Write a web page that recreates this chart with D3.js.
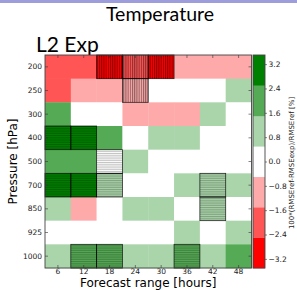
<!DOCTYPE html>
<html><head><meta charset="utf-8">
<script src="https://cdn.jsdelivr.net/npm/d3@7/dist/d3.min.js"></script>
<style>body{margin:0;background:#fff}svg{display:block}</style>
</head><body>
<script>
// ---- data ----
const forecastHours = ["6","12","18","24","30","36","42","48"];
const pressureLevels = ["200","250","300","400","500","700","850","925","1000"];
// 100*(RMSEref-RMSEexp)/RMSEref [%], rows = pressure levels, cols = forecast hours
const row200  = [-2.0,-2.1,-3.0,-2.2,-3.0,-1.0,-1.1,-0.9];
const row250  = [-2.0,-1.0,-0.9,-1.2, 0.1, 0.2, 0.1, 0.9];
const row300  = [ 2.0, 0.2, 0.1,-1.0,-0.9,-0.8, 0.8, 0.3];
const row400  = [ 3.0, 2.9, 2.0, 0.2, 0.9, 0.8, 0.3, 0.2];
const row500  = [ 2.0, 1.8, 0.3, 0.9, 0.2, 0.3, 0.2, 0.1];
const row700  = [ 3.0, 3.1, 1.0, 0.2, 0.3, 0.8, 1.0, 0.9];
const row850  = [ 0.9,-0.8, 0.1, 0.8, 0.9, 0.3, 1.0, 0.2];
const row925  = [ 0.2, 0.3, 0.2, 0.3, 0.2, 0.8, 0.3, 0.7];
const row1000 = [ 1.0, 2.0, 2.1, 0.9, 1.0, 2.0, 1.0, 1.8];
// significance flags (hatched cells)
const sig200  = [0,0,1,1,1,0,0,0];
const sig250  = [0,0,0,1,0,0,0,0];
const sig300  = [0,0,0,0,0,0,0,0];
const sig400  = [1,1,0,0,0,0,0,0];
const sig500  = [0,0,1,0,0,0,0,0];
const sig700  = [1,1,1,0,0,0,1,0];
const sig850  = [0,0,0,0,0,0,1,0];
const sig925  = [0,0,0,0,0,0,0,0];
const sig1000 = [0,1,1,0,0,1,0,0];
const colorbarTicks = [3.2,2.4,1.6,0.8,0.0,-0.8,-1.6,-2.4,-3.2];
const bandEdges = [-2.5,-1.5,-0.5,0.5,1.5,2.5];
const bandColors = ["#ff0000","#ff5555","#ffaaaa","#ffffff","#aad4aa","#55aa55","#008000"];

const values = [row200,row250,row300,row400,row500,row700,row850,row925,row1000];
const sigs = [sig200,sig250,sig300,sig400,sig500,sig700,sig850,sig925,sig1000];
const cells = [];
pressureLevels.forEach((p,i)=>forecastHours.forEach((h,j)=>cells.push({p,h,v:values[i][j],s:sigs[i][j]})));

const W=297,H=290;
const svg=d3.select("body").append("svg").attr("width",W).attr("height",H);
const defs=svg.append("defs");
const pv=defs.append("pattern").attr("id","hv").attr("patternUnits","userSpaceOnUse").attr("width",2.2).attr("height",4);
pv.append("line").attr("x1",0.6).attr("x2",0.6).attr("y1",0).attr("y2",4).attr("stroke","#000").attr("stroke-width",0.7).attr("stroke-opacity",0.8);
const ph=defs.append("pattern").attr("id","hh").attr("patternUnits","userSpaceOnUse").attr("width",4).attr("height",1.8);
ph.append("line").attr("x1",0).attr("x2",4).attr("y1",0.5).attr("y2",0.5).attr("stroke","#000").attr("stroke-width",0.6).attr("stroke-opacity",0.4);

// top bar
svg.append("rect").attr("x",0).attr("y",0).attr("width",W).attr("height",3).attr("fill","#9d9ddc");
svg.append("text").attr("x",160).attr("y",21).attr("text-anchor","middle")
  .style("font-family","Lato").style("font-size","19.5px").attr("fill","#000").text("Temperature");
svg.append("text").attr("x",36).attr("y",51.5)
  .style("font-family","Lato").style("font-size","21px").attr("fill","#000").text("L2 Exp");

const L=45,R=251.5,T=55,B=268;
const x=d3.scaleBand().domain(forecastHours).range([L,R]);
const y=d3.scaleBand().domain(pressureLevels).range([T,B]);
const color=d3.scaleThreshold().domain(bandEdges).range(bandColors);

const g=svg.append("g");
g.selectAll("rect.c").data(cells).join("rect").attr("class","c")
  .attr("x",d=>x(d.h)).attr("y",d=>y(d.p)).attr("width",x.bandwidth()+0.3).attr("height",y.bandwidth()+0.3)
  .attr("fill",d=>color(d.v));
const hs=cells.filter(d=>d.s);
g.selectAll("rect.h").data(hs).join("rect").attr("class","h")
  .attr("x",d=>x(d.h)).attr("y",d=>y(d.p)).attr("width",x.bandwidth()).attr("height",y.bandwidth())
  .attr("fill",d=>d.v<0?"url(#hv)":"url(#hh)").attr("stroke","#000").attr("stroke-width",0.8).attr("stroke-opacity",0.8);

const fs="DejaVu Sans";
function styleAxis(sel,show){
  sel.select(".domain").remove();
  sel.selectAll(".tick line").attr("stroke","#333").attr("stroke-width",0.6);
  sel.selectAll(".tick text").style("font-family",fs).style("font-size","7.5px").attr("fill","#222");
  if(!show) sel.selectAll(".tick text").remove();
}
svg.append("g").attr("transform",`translate(0,${B})`).call(d3.axisBottom(x).tickSizeInner(-3).tickSizeOuter(0).tickPadding(1)).call(s=>styleAxis(s,true));
svg.append("g").attr("transform",`translate(0,${T})`).call(d3.axisTop(x).tickSizeInner(-3).tickSizeOuter(0)).call(s=>styleAxis(s,false));
svg.append("g").attr("transform",`translate(${L},0)`).call(d3.axisLeft(y).tickSizeInner(-3).tickSizeOuter(0).tickPadding(3)).call(s=>styleAxis(s,true));
svg.append("g").attr("transform",`translate(${R},0)`).call(d3.axisRight(y).tickSizeInner(-3).tickSizeOuter(0)).call(s=>styleAxis(s,false));
svg.append("rect").attr("x",L).attr("y",T).attr("width",R-L).attr("height",B-T).attr("fill","none").attr("stroke","#444").attr("stroke-width",0.9);

svg.append("text").attr("x",(L+R)/2).attr("y",287).attr("text-anchor","middle")
  .style("font-family",fs).style("font-size","12px").attr("fill","#000").text("Forecast range [hours]");
svg.append("text").attr("transform",`translate(17,${(T+B)/2}) rotate(-90)`).attr("text-anchor","middle")
  .style("font-family",fs).style("font-size","12px").attr("fill","#000").text("Pressure [hPa]");

// colorbar
const cx0=253,cw=12;
const cy=d3.scaleLinear().domain([-3.5,3.5]).range([B,T]);
const edges=[-3.5,...bandEdges,3.5];
const bands=bandColors.map((c,i)=>({lo:edges[i],hi:edges[i+1],c}));
svg.append("g").selectAll("rect").data(bands).join("rect")
  .attr("x",cx0).attr("width",cw).attr("y",d=>cy(d.hi)).attr("height",d=>cy(d.lo)-cy(d.hi)+0.3).attr("fill",d=>d.c);
svg.append("rect").attr("x",cx0).attr("y",T).attr("width",cw).attr("height",B-T).attr("fill","none").attr("stroke","#444").attr("stroke-width",0.9);
const cax=svg.append("g").attr("transform",`translate(${cx0+cw},0)`)
  .call(d3.axisRight(cy).tickValues(colorbarTicks).tickFormat(d3.format(".1f")).tickSize(2).tickPadding(1.5));
cax.select(".domain").remove();
cax.selectAll(".tick line").attr("stroke","#333").attr("stroke-width",0.6);
cax.selectAll(".tick text").style("font-family",fs).style("font-size","7.5px").attr("fill","#222");
svg.append("text").attr("transform",`translate(294,163) rotate(-90)`).attr("text-anchor","middle")
  .style("font-family",fs).style("font-size","7px").attr("fill","#222").text("100*(RMSEref-RMSEexp)/RMSEref [%]");
</script>
</body></html>
